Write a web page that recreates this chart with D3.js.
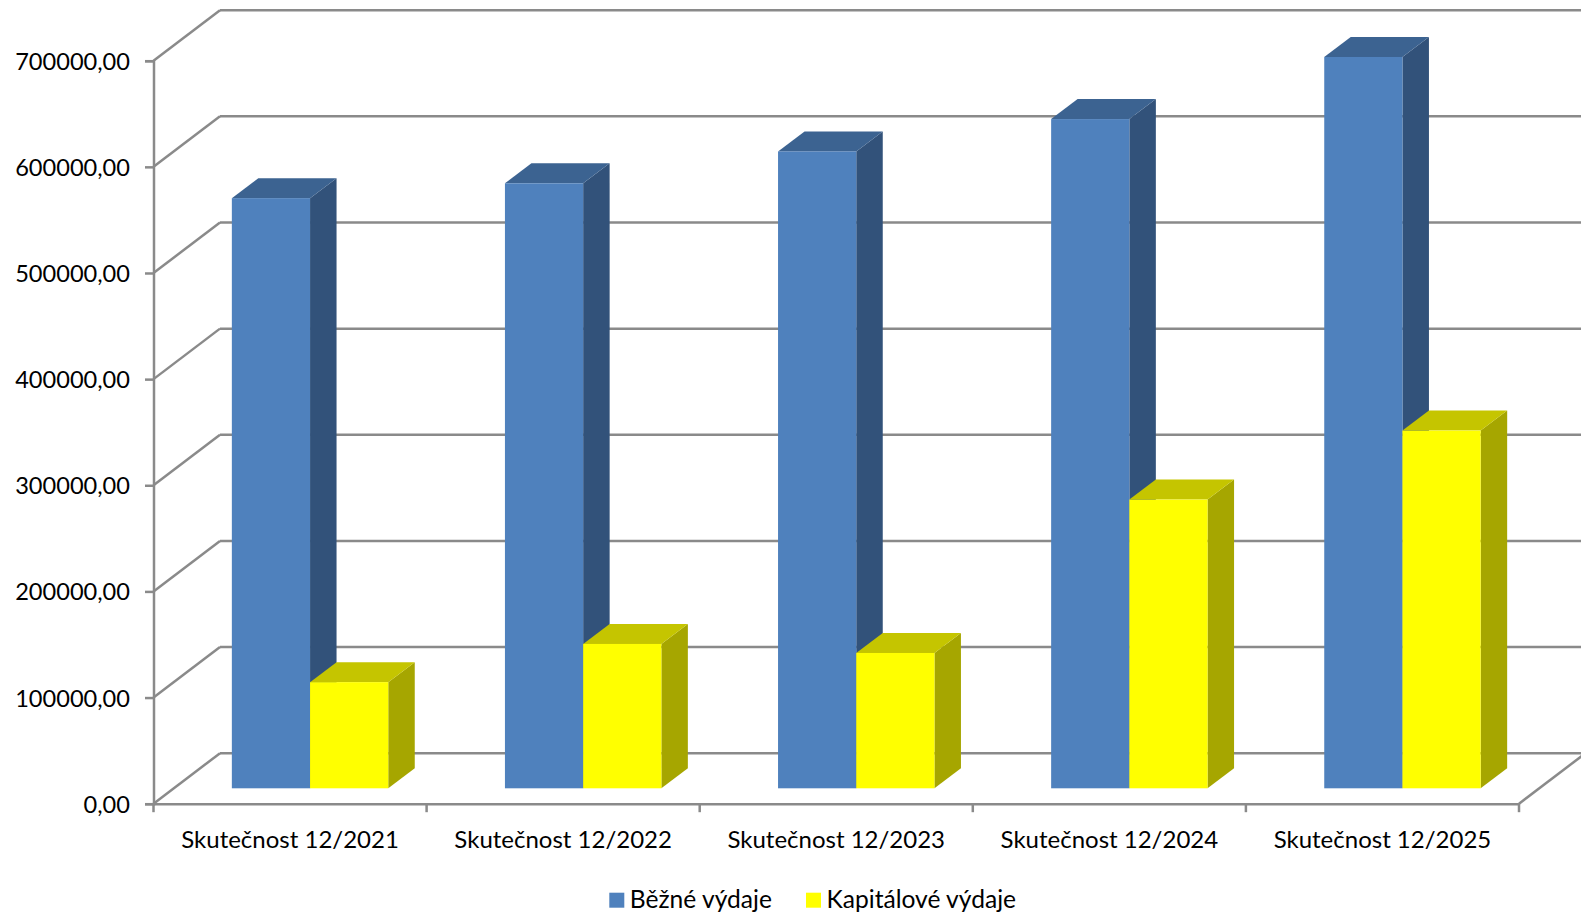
<!DOCTYPE html>
<html>
<head>
<meta charset="utf-8">
<script src="https://cdn.jsdelivr.net/npm/d3@7"></script>
<style>
  html, body { margin: 0; padding: 0; background: #fff; overflow: hidden; }
  svg { display: block; }
  text { font-family: Lato, sans-serif; fill: #000; }
</style>
</head>
<body>
<svg id="board" width="1581" height="913"></svg>
<script>
var categories = ['Skutečnost 12/2021', 'Skutečnost 12/2022', 'Skutečnost 12/2023', 'Skutečnost 12/2024', 'Skutečnost 12/2025'];
var seriesNames = ['Běžné výdaje', 'Kapitálové výdaje'];
var bezneVydaje = [556000, 570000, 600000, 630500, 689000];
var kapitaloveVydaje = [100000, 136000, 127500, 272000, 337000];
var yTicks = [0, 100000, 200000, 300000, 400000, 500000, 600000, 700000];
var seriesColors = [
  { front: '#4f81bd', top: '#3c6391', side: '#32527a' },
  { front: '#ffff00', top: '#c5c500', side: '#a6a600' }
];

var axisColor = '#8a8a8a';
var board = d3.select('#board');

var left = 153.5;
var right = 1519;
var bottom = 803.7;
var top_ = 60.7;
// Depth of the 3d box, and how far in the bars stand on the floor.
var wallDx = 66.5;
var wallDy = 50.5;
var barInsetX = 20;
var barInsetY = 15.4;
var barDx = 26.5;
var barDy = 20;

var y = d3.scaleLinear().domain([0, 700000]).range([bottom, top_]);
var x = d3.scaleBand().domain(categories).range([left, right]);
var xSeries = d3.scaleBand().domain(seriesNames).range([0, x.bandwidth()]).paddingOuter(0.746);

renderWalls();
renderAxes();
renderBars();
renderLegend();

function renderWalls() {
  var walls = board.append('g').attr('class', 'walls');
  walls.selectAll('.grid-back')
    .data(yTicks)
    .enter()
    .append('line')
    .attr('class', 'grid-back')
    .attr('x1', left + wallDx)
    .attr('x2', right + wallDx)
    .attr('y1', v => y(v) - wallDy)
    .attr('y2', v => y(v) - wallDy);
  walls.selectAll('.grid-side')
    .data(yTicks)
    .enter()
    .append('line')
    .attr('class', 'grid-side')
    .attr('x1', left)
    .attr('x2', left + wallDx)
    .attr('y1', v => y(v))
    .attr('y2', v => y(v) - wallDy);
  // Right edge of the floor.
  walls.append('line')
    .attr('x1', right)
    .attr('x2', right + wallDx)
    .attr('y1', bottom)
    .attr('y2', bottom - wallDy);
  walls.selectAll('line')
    .attr('stroke', axisColor)
    .attr('stroke-width', 2.5);
}

function renderAxes() {
  var yAxis = d3.axisLeft(y)
    .tickValues(yTicks)
    .tickSize(8.5)
    .tickPadding(15)
    .tickFormat(v => d3.format('.2f')(v).replace('.', ','));
  var yGroup = board.append('g')
    .attr('transform', `translate(${left},0)`)
    .call(yAxis);
  yGroup.selectAll('text')
    .attr('font-size', 23.6)
    .attr('dy', '0.36em')
    .style('font-family', 'Lato, sans-serif');

  var xAxis = d3.axisBottom(x).tickSize(0).tickPadding(27);
  var xGroup = board.append('g')
    .attr('transform', `translate(0,${bottom})`)
    .call(xAxis);
  xGroup.selectAll('text').attr('font-size', 24).style('font-family', 'Lato, sans-serif');

  // Category ticks sit on the band edges, not the centres.
  var edges = categories.map(c => x(c)).concat([right]);
  xGroup.selectAll('.edge-tick')
    .data(edges)
    .enter()
    .append('line')
    .attr('class', 'edge-tick')
    .attr('x1', d => d)
    .attr('x2', d => d)
    .attr('y1', 0)
    .attr('y2', 8.5);

  board.selectAll('.domain, .tick line, .edge-tick')
    .attr('stroke', axisColor)
    .attr('stroke-width', 2.5);
}

function renderBars() {
  var barData = [];
  categories.forEach((category, i) => {
    barData.push({ category, series: 0, value: bezneVydaje[i] });
    barData.push({ category, series: 1, value: kapitaloveVydaje[i] });
  });

  var bars = board.selectAll('.bar')
    .data(barData)
    .enter()
    .append('g')
    .attr('class', 'bar');

  bars.append('path')
    .attr('fill', d => seriesColors[d.series].side)
    .attr('d', d => {
      var b = barBox(d);
      return `M${b.x1},${b.top}L${b.x1 + barDx},${b.top - barDy}L${b.x1 + barDx},${b.base - barDy}L${b.x1},${b.base}Z`;
    });
  bars.append('path')
    .attr('fill', d => seriesColors[d.series].top)
    .attr('d', d => {
      var b = barBox(d);
      return `M${b.x0},${b.top}L${b.x0 + barDx},${b.top - barDy}L${b.x1 + barDx},${b.top - barDy}L${b.x1},${b.top}Z`;
    });
  bars.append('rect')
    .attr('fill', d => seriesColors[d.series].front)
    .attr('x', d => barBox(d).x0)
    .attr('y', d => barBox(d).top)
    .attr('width', xSeries.bandwidth())
    .attr('height', d => barBox(d).base - barBox(d).top);
}

function barBox(d) {
  var x0 = x(d.category) + xSeries(seriesNames[d.series]) + barInsetX;
  return {
    x0: x0,
    x1: x0 + xSeries.bandwidth(),
    top: y(d.value) - barInsetY,
    base: y(0) - barInsetY
  };
}

function renderLegend() {
  var legendX = [609.3, 806];
  var items = board.selectAll('.legend-item')
    .data(seriesNames)
    .enter()
    .append('g')
    .attr('class', 'legend-item')
    .attr('transform', (d, i) => `translate(${legendX[i]},892.7)`);
  items.append('rect')
    .attr('width', 15)
    .attr('height', 15)
    .attr('fill', (d, i) => seriesColors[i].front);
  items.append('text')
    .attr('x', 20.5)
    .attr('y', 15)
    .attr('font-size', 24.6)
    .text(d => d);
}
</script>
</body>
</html>
